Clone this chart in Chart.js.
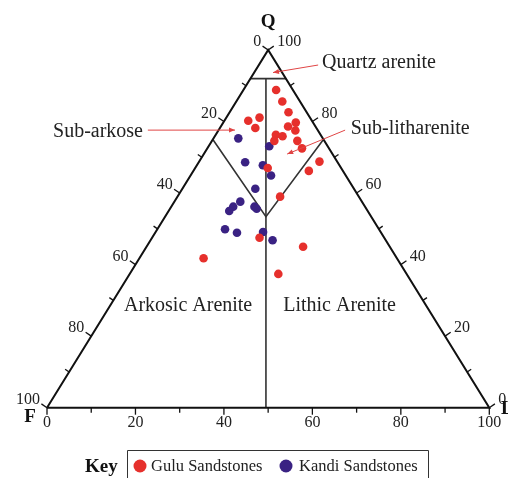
<!DOCTYPE html>
<html><head><meta charset="utf-8">
<script src="https://cdn.jsdelivr.net/npm/chart.js@4.4.1/dist/chart.umd.min.js"></script>
<style>html,body{margin:0;padding:0;background:#fff;}#wrap{width:508px;height:478px;}</style>
</head><body><div id="wrap"><canvas id="c" width="508" height="478"></canvas></div>
<script>
// Ternary values in percent: Q and L (F = 100 - Q - L)
const guluQ = [88.8,85.6,82.6,81.1,80.2,78.2,79.7,78.6,77.5,76.3,75.9,74.6,74.6,72.5,68.8,66.2,67.0,59.0,47.5,45.0,41.8,37.4];
const guluL = [7.4,10.4,13.3,7.5,5.4,8.0,16.4,15.2,17.4,13.6,15.3,14.1,19.3,21.4,27.2,26.1,16.4,23.2,24.3,35.4,14.5,33.6];
const kandiQ = [75.3,73.1,68.6,67.8,64.9,61.2,57.6,56.2,55.0,56.2,55.6,49.9,48.9,49.1,46.8];
const kandiL = [5.6,13.7,10.5,14.9,18.2,16.5,14.9,14.0,13.7,18.8,19.6,15.3,18.5,24.3,27.6];
const seriesNames = ['Gulu Sandstones','Kandi Sandstones'];
const majorTicks = [0,20,40,60,80,100];
const minorTicks = [10,30,50,70,90];
const apexNames = ['Q','F','L'];
const fieldNames = ['Quartz arenite','Sub-arkose','Sub-litharenite','Arkosic Arenite','Lithic Arenite'];
// triangle frame and classification boundaries (Q, L)
const frameQ = [0,0,100,0];
const frameL = [0,100,0,0];
const qaQ = [92,92];
const qaL = [0,8];
const midQ = [92,0];
const midL = [3.5,49.5];
const subQ = [75,53.4,75];
const subL = [0,22.8,25];

function toXY(q,l){ return {x: l + q/2, y: q}; }
function pts(Q,L){ return Q.map((q,i)=>toXY(q,L[i])); }

const RED='#e6302c', BLUE='#3a2283';
const SERIF="'Liberation Serif','Times New Roman',serif";

const lineDs = (data,color,w)=>({type:'scatter',data,showLine:true,pointRadius:0,borderColor:color,borderWidth:w,fill:false,clip:false,order:5,tension:0});

const overlay = {
  id:'overlay',
  afterDatasetsDraw(chart){
    const ctx=chart.ctx, xs=chart.scales.x, ys=chart.scales.y;
    const P=(x,y)=>[xs.getPixelForValue(x), ys.getPixelForValue(y)];
    const T=(q,l)=>{const p=toXY(q,l);return P(p.x,p.y);};
    ctx.save();
    ctx.strokeStyle='#111'; ctx.lineWidth=1.3; ctx.fillStyle='#222';
    ctx.font='16px '+SERIF; ctx.textBaseline='middle';
    const seg=(a,b)=>{ctx.beginPath();ctx.moveTo(a[0],a[1]);ctx.lineTo(b[0],b[1]);ctx.stroke();};
    // left side: F percent (0 at Q apex, 100 at F)
    const tick=(list,len,lab)=>{
      list.forEach(v=>{
        // left
        let p=T(100-v,0); seg(p,[p[0]-len*0.8,p[1]-len*0.55]);
        if(lab){ctx.textAlign='right';ctx.fillText(String(v),p[0]-7,p[1]-8);}
        // right: Q percent
        p=T(v,100-v); seg(p,[p[0]+len*0.8,p[1]-len*0.55]);
        if(lab){ctx.textAlign='left';ctx.fillText(String(v),p[0]+9,p[1]-8);}
        // bottom: L percent
        p=T(0,v); seg(p,[p[0],p[1]+len]);
        if(lab){ctx.textAlign='center';ctx.fillText(String(v),p[0],p[1]+15);}
      });
    };
    tick(majorTicks,7,true);
    tick(minorTicks,5,false);
    // apex names
    ctx.font='bold 19px '+SERIF; ctx.fillStyle='#111'; ctx.textAlign='center';
    let q=T(100,0); ctx.fillText(apexNames[0],q[0],q[1]-28);
    let f=T(0,0); ctx.fillText(apexNames[1],f[0]-17,f[1]+9);
    let l=T(0,100); ctx.fillText(apexNames[2],l[0]+18,l[1]+1);
    // field names
    ctx.font='20px '+SERIF; ctx.fillStyle='#222'; ctx.textAlign='left';
    let a;
    a=P(62.2,96.4); ctx.fillText(fieldNames[0],a[0],a[1]);
    a=P(1.36,77.2); ctx.fillText(fieldNames[1],a[0],a[1]);
    a=P(68.7,77.9); ctx.fillText(fieldNames[2],a[0],a[1]);
    a=P(17.4,28.5); ctx.fillText(fieldNames[3],a[0],a[1]);
    a=P(53.4,28.5); ctx.fillText(fieldNames[4],a[0],a[1]);
    // arrows
    const arrow=(s,e)=>{
      const A=P(s[0],s[1]), B=P(e[0],e[1]);
      ctx.strokeStyle='#e04545'; ctx.fillStyle='#e04545'; ctx.lineWidth=1;
      seg(A,B);
      const ang=Math.atan2(B[1]-A[1],B[0]-A[0]);
      ctx.beginPath(); ctx.moveTo(B[0],B[1]);
      ctx.lineTo(B[0]-6*Math.cos(ang)+2.5*Math.sin(ang),B[1]-6*Math.sin(ang)-2.5*Math.cos(ang));
      ctx.lineTo(B[0]-6*Math.cos(ang)-2.5*Math.sin(ang),B[1]-6*Math.sin(ang)+2.5*Math.cos(ang));
      ctx.closePath(); ctx.fill();
    };
    arrow([61.3,95.8],[51.1,93.7]);
    arrow([22.8,77.6],[42.5,77.6]);
    arrow([67.4,77.6],[54.3,70.9]);
    // key / legend
    const ly=466;
    ctx.font='bold 19px '+SERIF; ctx.fillStyle='#111'; ctx.textAlign='left';
    ctx.fillText('Key',85,ly+1);
    ctx.strokeStyle='#333'; ctx.lineWidth=1;
    ctx.beginPath(); ctx.moveTo(127.5,480); ctx.lineTo(127.5,450.5); ctx.lineTo(428.5,450.5); ctx.lineTo(428.5,480); ctx.stroke();
    ctx.font='16.5px '+SERIF; ctx.fillStyle='#222';
    [[140,151,RED],[286,299,BLUE]].forEach((it,i)=>{
      ctx.fillStyle=it[2]; ctx.beginPath(); ctx.arc(it[0],ly,6.5,0,Math.PI*2); ctx.fill();
      ctx.fillStyle='#222'; ctx.fillText(seriesNames[i],it[1],ly+1);
    });
    ctx.restore();
  }
};

new Chart(document.getElementById('c'),{
  type:'scatter',
  data:{datasets:[
    {label:seriesNames[0],data:pts(guluQ,guluL),backgroundColor:RED,borderColor:RED,borderWidth:0,pointRadius:4.3,order:0,clip:false},
    {label:seriesNames[1],data:pts(kandiQ,kandiL),backgroundColor:BLUE,borderColor:BLUE,borderWidth:0,pointRadius:4.3,order:1,clip:false},
    lineDs(pts(frameQ,frameL),'#111',2),
    lineDs(pts(qaQ,qaL),'#333',1.6),
    lineDs(pts(midQ,midL),'#333',1.6),
    lineDs(pts(subQ,subL),'#333',1.6)
  ]},
  options:{
    responsive:false, animation:false, devicePixelRatio:1,
    layout:{padding:{left:47,right:18.7,top:50,bottom:70.3}},
    scales:{x:{type:'linear',min:0,max:100,display:false},y:{type:'linear',min:0,max:100,display:false}},
    plugins:{legend:{display:false},tooltip:{enabled:false}},
    elements:{point:{hoverRadius:4.3}}
  },
  plugins:[overlay]
});
</script></body></html>
